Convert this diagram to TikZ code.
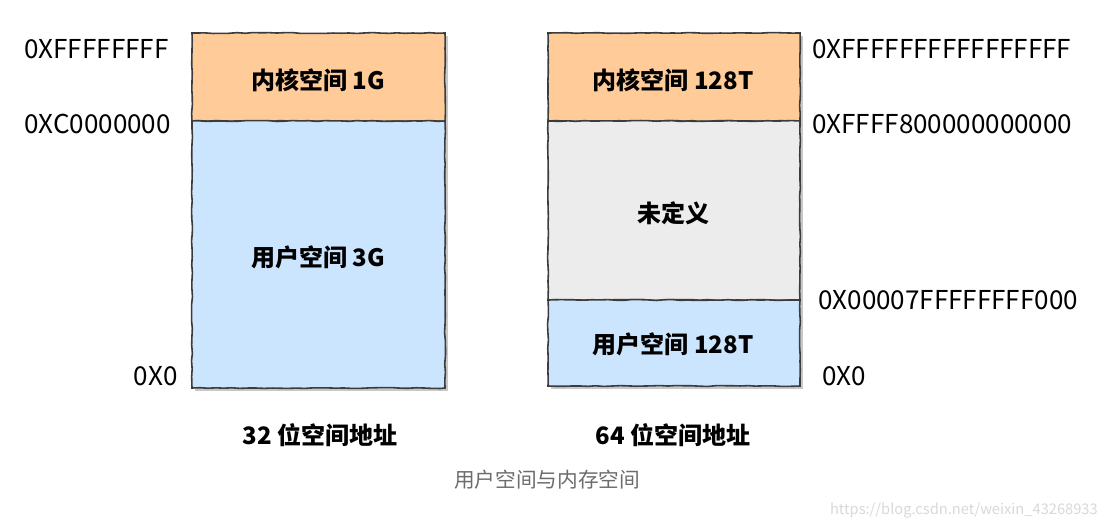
\documentclass[tikz,border=0pt]{standalone}
\usepackage{fontspec}
\newfontfamily\cjk{Noto Sans CJK SC}
\usetikzlibrary{decorations.pathmorphing}
\definecolor{kern}{RGB}{255,204,153}
\definecolor{usr}{RGB}{204,229,255}
\definecolor{undef}{RGB}{236,236,236}
\definecolor{edge}{RGB}{60,60,60}
\definecolor{shadow}{RGB}{200,200,200}
\tikzset{
  seg/.style={draw=edge, line width=1.2pt, inner sep=0pt, outer sep=0pt, anchor=north west,
    decorate, decoration={random steps, segment length=6pt, amplitude=0.35pt}},
  addr/.style={inner sep=0pt, font=\cjk\fontsize{19.5}{21}\selectfont, text=black},
  title/.style={inner sep=0pt, font=\cjk\bfseries\fontsize{18}{20}\selectfont},
  shade/.style={fill=shadow, draw=none},
}
\begin{document}
\begin{tikzpicture}[x=0.75pt, y=-0.75pt]
\useasboundingbox (0,0) rectangle (1109,529);
\fill[white] (0,0) rectangle (1109,529);
% shadows
\fill[shade] (195,36) rectangle (448,391);
\fill[shade] (551,36) rectangle (803,389);
% left column
\node[seg, fill=kern, minimum width=253*0.75pt, minimum height=88*0.75pt] (lk) at (192,33) {};
\node[seg, fill=usr, minimum width=253*0.75pt, minimum height=267*0.75pt] (lu) at (192,121) {};
\node[title] at (318,80) (lkt) {内核空间 1G};
\node[title] at (318,257) (lut) {用户空间 3G};
% right column
\node[seg, fill=kern, minimum width=252*0.75pt, minimum height=88*0.75pt] (rk) at (548,33) {};
\node[seg, fill=undef, minimum width=252*0.75pt, minimum height=179*0.75pt] (rn) at (548,121) {};
\node[seg, fill=usr, minimum width=252*0.75pt, minimum height=86*0.75pt] (ru) at (548,300) {};
\node[title] at (673,80) (rkt) {内核空间 128T};
\node[title] at (673,213) (rnt) {未定义};
\node[title] at (673,344) (rut) {用户空间 128T};
% addresses
\node[addr, anchor=west] (a1) at (24,49) {0XFFFFFFFF};
\node[addr, anchor=west] (a2) at (24,124) {0XC0000000};
\node[addr, anchor=east] (a3) at (178,376) {0X0};
\node[addr, anchor=west] (b1) at (812,49) {0XFFFFFFFFFFFFFFFF};
\node[addr, anchor=west] (b2) at (812,124) {0XFFFF800000000000};
\node[addr, anchor=west] (b3) at (818,300) {0X00007FFFFFFFF000};
\node[addr, anchor=west] (b4) at (822,376) {0X0};
% column titles
\node[title] (t32) at (320,435) {32 位空间地址};
\node[title] (t64) at (673,435) {64 位空间地址};
% caption and watermark
\node[inner sep=0pt, font=\cjk\fontsize{15.5}{17}\selectfont, text=gray!85!black] (cap) at (547,480) {用户空间与内存空间};
\node[inner sep=0pt, anchor=east, font=\cjk\fontsize{11}{13}\selectfont, text=black!15] (wm) at (1098,510) {https://blog.csdn.net/weixin\_43268933};
\end{tikzpicture}
\end{document}
